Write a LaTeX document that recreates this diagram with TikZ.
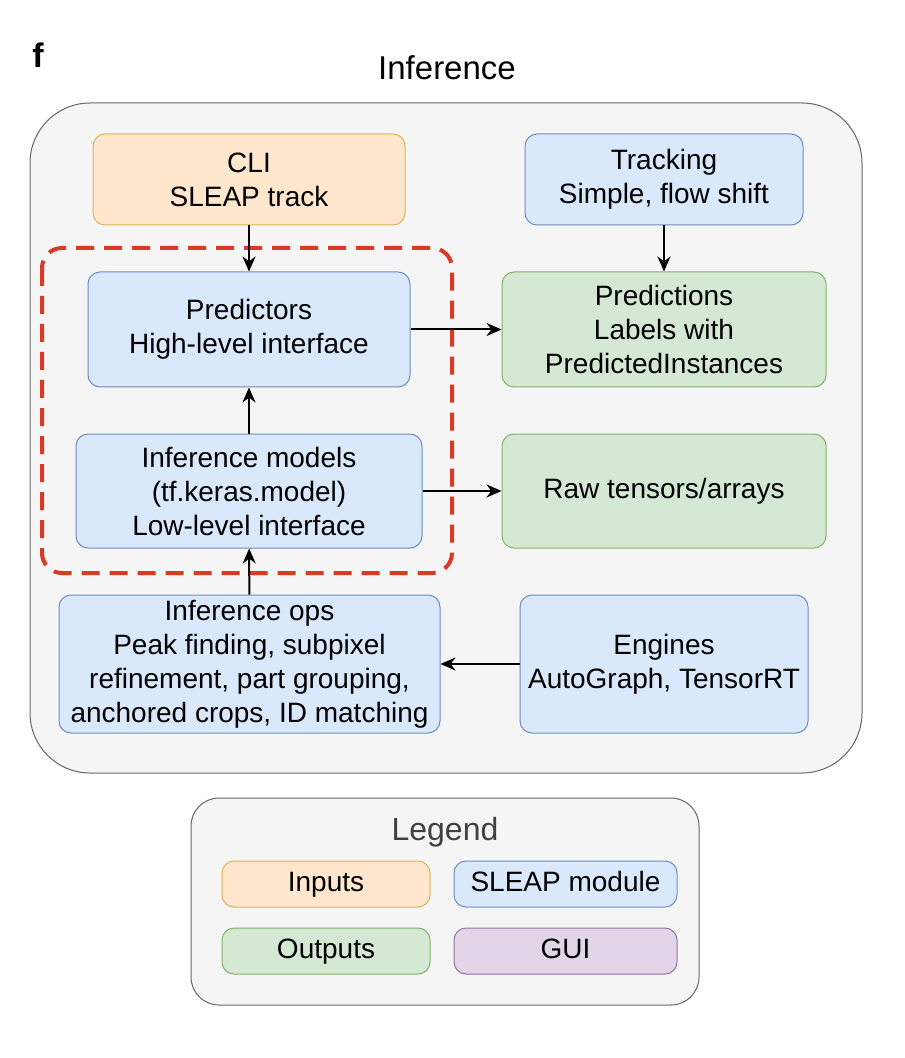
\documentclass[tikz,border=0pt]{standalone}
\usepackage{fontspec}
\setmainfont{Liberation Sans}
\usetikzlibrary{arrows.meta}
\definecolor{inFill}{HTML}{FFE6CC}
\definecolor{inLine}{HTML}{D6B656}
\definecolor{modFill}{HTML}{DAE8FC}
\definecolor{modLine}{HTML}{6C8EBF}
\definecolor{outFill}{HTML}{D5E8D4}
\definecolor{outLine}{HTML}{82B366}
\definecolor{guiFill}{HTML}{E1D5E7}
\definecolor{guiLine}{HTML}{9673A6}
\definecolor{panelFill}{HTML}{F5F5F5}
\definecolor{panelLine}{HTML}{666666}
\definecolor{dashRed}{HTML}{D93A26}
\tikzset{
    box/.style={draw, line width=0.5pt, rounded corners=6pt, align=center,
        font=\fontsize{14}{17}\selectfont, inner sep=0pt},
    inbox/.style={box, fill=inFill, draw=inLine},
    modbox/.style={box, fill=modFill, draw=modLine},
    outbox/.style={box, fill=outFill, draw=outLine},
    guibox/.style={box, fill=guiFill, draw=guiLine},
    keybox/.style={minimum width=#1, minimum height=23pt, text height=10pt, text depth=3pt},
    flow/.style={line width=1pt, -{Stealth[length=7.5pt,width=6.5pt]}}
}
\begin{document}
\begin{tikzpicture}[x=0.5pt, y=-0.5pt]
        \useasboundingbox (0, 0) rectangle (904, 1058);
        % panel and title
        \node[font=\bfseries\fontsize{17}{20}\selectfont] (tag) at (38, 55) {f};
        \node[font=\fontsize{16.5}{20}\selectfont] (title) at (447, 68) {Inference};
        \draw[panelLine, fill=panelFill, line width=0.5pt, rounded corners=30pt] (30, 103) rectangle (862, 773);
        % modules
        \node[inbox, minimum width=156pt, minimum height=45.5pt] (cli) at (249, 179.5) {CLI\\SLEAP track};
        \node[modbox, minimum width=139pt, minimum height=45.5pt] (track) at (664, 179.5) {Tracking\\Simple, flow shift};
        \node[modbox, minimum width=161pt, minimum height=57.5pt] (pred) at (249, 329.5) {Predictors\\High-level interface};
        \node[outbox, minimum width=162pt, minimum height=57.5pt] (preds) at (664, 329.5) {Predictions\\Labels with\\PredictedInstances};
        \node[modbox, minimum width=173pt, minimum height=57pt] (infmod) at (249, 491) {Inference models\\(tf.keras.model)\\Low-level interface};
        \node[outbox, minimum width=162pt, minimum height=57pt] (raw) at (664, 491) {Raw tensors/arrays};
        \node[modbox, minimum width=190.5pt, minimum height=69pt] (ops) at (249.5, 664) {Inference ops\\Peak finding, subpixel\\refinement, part grouping,\\anchored crops, ID matching};
        \node[modbox, minimum width=144pt, minimum height=69pt] (eng) at (664, 664) {Engines\\AutoGraph, TensorRT};
        % dashed group
        \draw[dashRed, line width=2pt, dash pattern=on 9pt off 5pt, rounded corners=10pt] (42, 248) rectangle (452, 573);
        % connectors
        \draw[flow] (cli) -- (pred);
        \draw[flow] (track) -- (preds);
        \draw[flow] (pred) -- (preds);
        \draw[flow] (infmod) -- (pred);
        \draw[flow] (infmod) -- (raw);
        \draw[flow] (ops) -- (infmod);
        \draw[flow] (eng) -- (ops);
        % legend
        \draw[panelLine, fill=panelFill, line width=0.5pt, rounded corners=14pt] (191, 798) rectangle (699, 1005);
        \node[font=\fontsize{16}{19}\selectfont, text=black!75] (legend) at (445, 832) {Legend};
        \node[inbox, keybox=104pt] (linputs) at (326, 884) {Inputs};
        \node[modbox, keybox=111.5pt] (lmodule) at (565.5, 884) {SLEAP module};
        \node[outbox, keybox=104pt] (loutputs) at (326, 951) {Outputs};
        \node[guibox, keybox=111.5pt] (lgui) at (565.5, 951) {GUI};
\end{tikzpicture}
\end{document}
